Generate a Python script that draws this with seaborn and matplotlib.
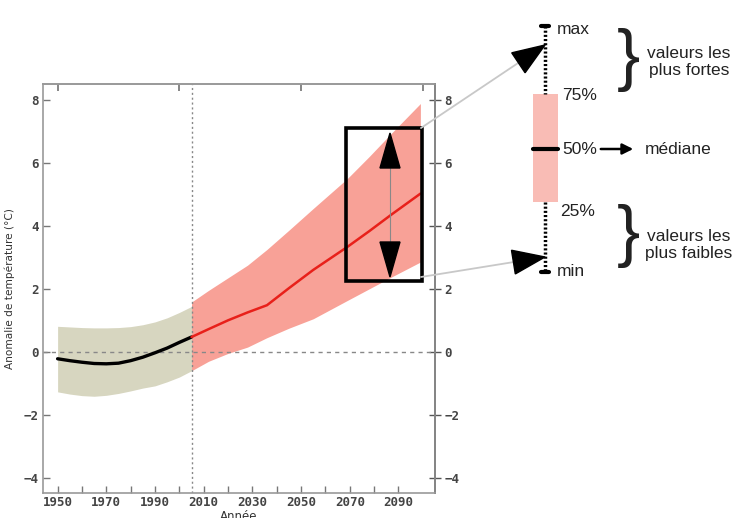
import numpy as np
import pandas as pd
import matplotlib
matplotlib.use("Agg")
import matplotlib.pyplot as plt
import seaborn as sns
from matplotlib.patches import Rectangle, Polygon

# Historique (1950-2005)
annees_hist = [1950, 1955, 1960, 1965, 1970, 1975, 1980, 1985, 1990, 1995, 2000, 2005]
mediane_hist = [-0.22, -0.28, -0.33, -0.37, -0.38, -0.36, -0.28, -0.17, -0.03, 0.12, 0.30, 0.47]
haut_hist = [0.81, 0.79, 0.77, 0.76, 0.76, 0.77, 0.80, 0.86, 0.95, 1.08, 1.25, 1.44]
bas_hist = [-1.27, -1.34, -1.39, -1.41, -1.38, -1.32, -1.24, -1.15, -1.08, -0.95, -0.80, -0.60]

# Projection (2005-2100)
annees_proj = [2005, 2012, 2020, 2028, 2036, 2045, 2055, 2069, 2078, 2087, 2099]
mediane_proj = [0.47, 0.72, 1.0, 1.25, 1.48, 2.02, 2.6, 3.33, 3.83, 4.35, 5.02]
haut_proj = [1.58, 1.95, 2.35, 2.75, 3.25, 3.86, 4.55, 5.5, 6.2, 6.93, 7.88]
bas_proj = [-0.60, -0.30, -0.05, 0.15, 0.45, 0.75, 1.05, 1.63, 2.0, 2.37, 2.85]

x_ticks = list(range(1950, 2091, 10))
x_labels = [str(a) if (a - 1950) % 20 == 0 else "" for a in x_ticks]
y_ticks = [-4, -2, 0, 2, 4, 6, 8]

df_hist = pd.DataFrame({"annee": annees_hist, "med": mediane_hist})
df_proj = pd.DataFrame({"annee": annees_proj, "med": mediane_proj})

sns.set_theme(style="white")
plt.rcParams["font.family"] = ["DejaVu Sans"]

fig = plt.figure(figsize=(7.36, 5.18), dpi=100)
ax = fig.add_axes([43 / 736, 25 / 518, 392 / 736, 409 / 518])

ax.fill_between(annees_hist, bas_hist, haut_hist, color="#d7d6c0", lw=0)
ax.fill_between(annees_proj, bas_proj, haut_proj, color="#f8a197", lw=0)
ax.axhline(0, color="#888888", lw=1, ls=(0, (3, 3)))
ax.axvline(2005, color="#888888", lw=1, ls=(0, (1.5, 2)))
sns.lineplot(data=df_hist, x="annee", y="med", color="black", lw=2.4, ax=ax)
sns.lineplot(data=df_proj, x="annee", y="med", color="#e8201a", lw=1.8, ax=ax)

ax.set_xlim(1944, 2105)
ax.set_ylim(-4.48, 8.5)
ax.set_xticks(x_ticks)
ax.set_xticklabels(x_labels)
ax.set_yticks(y_ticks)
mono = "DejaVu Sans Mono"
ax.tick_params(direction="in", length=5, width=1, color="#777777", labelcolor="#444444",
               labelsize=9, pad=3, left=True, bottom=True)
ax.tick_params(axis="x", pad=2)
for lab in ax.get_xticklabels() + ax.get_yticklabels():
    lab.set_family(mono)
    lab.set_weight("bold")
for s in ax.spines.values():
    s.set_color("#999999")
    s.set_linewidth(1.2)
ax.set_xlabel("Année", fontsize=8.5, color="#333333", labelpad=1)
ax.set_ylabel("Anomalie de température (°C)", fontsize=7.6, color="#333333", labelpad=6)

top = ax.secondary_xaxis("top")
top.set_xticks([1950, 2000, 2050, 2100])
top.set_xticklabels([])
top.tick_params(direction="in", length=5, color="#777777")
top.spines["top"].set_color("#999999")

right = ax.secondary_yaxis("right")
right.set_yticks(y_ticks)
right.tick_params(direction="inout", length=8, width=1, color="#555555",
                  labelcolor="#444444", labelsize=9, pad=3)
for lab in right.get_yticklabels():
    lab.set_family(mono)
    lab.set_weight("bold")
right.spines["right"].set_color("#222222")
right.spines["right"].set_linewidth(1.4)

# cadre de zoom sur la fin du siecle
ax.add_patch(Rectangle((2068.5, 2.24), 31.3, 4.85, fill=False, ec="black", lw=2.6, zorder=5))

# calque en pixels pour le schema explicatif
ov = fig.add_axes([0, 0, 1, 1])
ov.set_xlim(0, 736)
ov.set_ylim(518, 0)
ov.axis("off")
ov.patch.set_alpha(0)


def tete(x0, y0, x1, y1, long=30, larg=11):
    d = np.array([x1 - x0, y1 - y0], float)
    d /= np.hypot(*d)
    n = np.array([-d[1], d[0]])
    tip = np.array([x1, y1])
    base = tip - d * long
    ov.add_patch(Polygon([tip, base + n * larg, base - n * larg], color="black", zorder=6))


# double fleche dans le cadre
ov.plot([390, 390], [140, 270], color="#888888", lw=0.8)
tete(390, 200, 390, 133, 35, 10)
tete(390, 200, 390, 277, 35, 10)

# lignes vers le schema
ov.plot([421, 545], [128, 45], color="#c8c8c8", lw=1.3)
tete(421, 128, 545, 45, 32, 12)
ov.plot([421, 545], [277, 257], color="#c8c8c8", lw=1.3)
tete(421, 277, 545, 257, 32, 12)

# boite a moustaches schematique
ov.plot([545, 545], [26, 94], color="black", lw=2.5, ls=(0, (0.6, 0.6)))
ov.plot([545, 545], [202, 272], color="black", lw=2.5, ls=(0, (0.6, 0.6)))
ov.plot([541, 549], [26, 26], color="black", lw=3)
ov.plot([541, 549], [272, 272], color="black", lw=3)
ov.add_patch(Rectangle((533, 94), 25, 108, color="#f9bcb5", lw=0))
ov.plot([533, 558], [149, 149], color="black", lw=3)

txt = dict(family="Liberation Sans", fontsize=12.5, color="#222222", va="center")
ov.text(557, 30, "max", **txt)
ov.text(562, 96, "75%", **txt)
ov.text(562, 149, "50%", **txt)
ov.text(560, 212, "25%", **txt)
ov.text(557, 272, "min", **txt)
ov.annotate("", xy=(636, 149), xytext=(598, 149),
            arrowprops=dict(arrowstyle="-|>", color="black", lw=1.8, mutation_scale=16))
ov.text(645, 149, "médiane", **txt)
ov.text(617, 60, "}", family="Liberation Sans", fontsize=50, va="center", color="#222222")
ov.text(617, 236, "}", family="Liberation Sans", fontsize=50, va="center", color="#222222")
ov.text(689, 62, "valeurs les\nplus fortes", ha="center", linespacing=1.15, **txt)
ov.text(689, 245, "valeurs les\nplus faibles", ha="center", linespacing=1.15, **txt)

fig.savefig("out.png", dpi=100)
